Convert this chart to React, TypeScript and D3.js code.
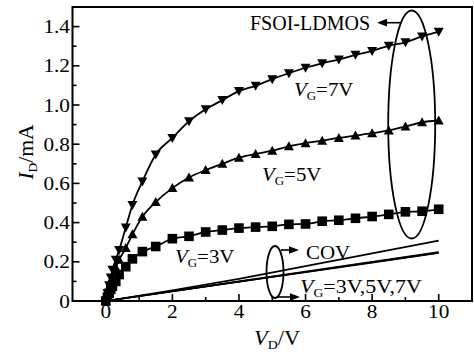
import React from 'react';
import * as d3 from 'd3';

const vd = [0, 0.05, 0.1, 0.15, 0.2, 0.3, 0.4, 0.6, 0.8, 1.1, 1.5, 2, 2.5, 3, 3.5, 4, 4.5, 5, 5.5, 6, 6.5, 7, 7.5, 8, 8.5, 9, 9.5, 10];
const id7 = [0, 0.04, 0.08, 0.12, 0.16, 0.21, 0.26, 0.375, 0.49, 0.61, 0.747, 0.832, 0.917, 0.978, 1.025, 1.071, 1.098, 1.132, 1.162, 1.19, 1.213, 1.232, 1.256, 1.276, 1.302, 1.32, 1.35, 1.374];
const id5 = [0, 0.03, 0.06, 0.09, 0.12, 0.17, 0.21, 0.27, 0.34, 0.43, 0.505, 0.576, 0.63, 0.668, 0.7, 0.731, 0.75, 0.767, 0.789, 0.805, 0.818, 0.832, 0.844, 0.856, 0.87, 0.89, 0.912, 0.921];
const id3 = [0, 0.02, 0.04, 0.06, 0.075, 0.1, 0.135, 0.175, 0.215, 0.252, 0.278, 0.318, 0.33, 0.352, 0.362, 0.372, 0.377, 0.381, 0.391, 0.393, 0.407, 0.412, 0.422, 0.431, 0.442, 0.455, 0.458, 0.468];

const covVd = [0, 2, 4, 6, 8, 10];
const covThin = [0, 0.055, 0.113, 0.178, 0.243, 0.308];
const covThick3 = [0, 0.049, 0.098, 0.147, 0.196, 0.245];
const covThick5 = [0, 0.0495, 0.099, 0.148, 0.198, 0.247];
const covThick7 = [0, 0.05, 0.1, 0.15, 0.2, 0.25];

const xTicks = [0, 2, 4, 6, 8, 10];
const xTickLabels = ['0', '2', '4', '6', '8', '10'];
const yTicks = [0, 0.2, 0.4, 0.6, 0.8, 1.0, 1.2, 1.4];
const yTickLabels = ['0', '0.2', '0.4', '0.6', '0.8', '1.0', '1.2', '1.4'];

const W = 474, H = 352;
const x = d3.scaleLinear().domain([-1, 11]).range([72.5, 472]);
const y = d3.scaleLinear().domain([0, 1.5]).range([301, 7]);

const FONT = '"Liberation Serif", "Times New Roman", serif';

function line(xs: number[], ys: number[], curve = d3.curveMonotoneX) {
  const pts = xs.map((v, i) => [v, ys[i]] as [number, number]);
  return d3.line<[number, number]>().x(d => x(d[0])).y(d => y(d[1])).curve(curve)(pts) || '';
}

function Marker({ kind, cx, cy }: { kind: string; cx: number; cy: number }) {
  if (kind === 'down') {
    return <path d={`M${cx - 5},${cy - 4} L${cx + 5},${cy - 4} L${cx},${cy + 5} Z`} fill="#000" />;
  }
  if (kind === 'up') {
    return <path d={`M${cx - 5},${cy + 4} L${cx + 5},${cy + 4} L${cx},${cy - 5} Z`} fill="#000" />;
  }
  return <rect x={cx - 4.8} y={cy - 4.8} width={9.6} height={9.6} fill="#000" />;
}

function Sub({ x: tx, y: ty, main, sub, rest, size, sx = 1.1, anchor = 'start' }: { x: number; y: number; main: string; sub: string; rest: string; size: number; sx?: number; anchor?: string }) {
  return (
    <text transform={`translate(${tx},${ty}) scale(${sx},1)`} textAnchor={anchor} fontFamily={FONT} fontSize={size} fill="#000">
      <tspan fontStyle="italic">{main}</tspan>
      <tspan fontSize={size * 0.62} dy={size * 0.22}>{sub}</tspan>
      <tspan dy={-size * 0.22}>{rest}</tspan>
    </text>
  );
}

export default function App() {
  const minorX = d3.range(-1, 11.01, 1).filter(v => !xTicks.includes(v) && v > -1 && v < 11);
  const minorY = d3.range(0.1, 1.5, 0.2);
  const series = [
    { ys: id7, kind: 'down' },
    { ys: id5, kind: 'up' },
    { ys: id3, kind: 'square' },
  ];
  const x0 = x(-1), x1 = x(11), y0 = y(0), y1 = y(1.5);
  return (
    <svg width={W} height={H} style={{ position: 'absolute', left: 0, top: 0, background: '#fff' }}>
      <rect x={0} y={0} width={W} height={H} fill="#fff" />
      {/* COV lines */}
      <path d={line(covVd, covThin, d3.curveLinear)} fill="none" stroke="#000" strokeWidth={1.6} />
      {[covThick3, covThick5, covThick7].map((c, i) => (
        <path key={i} d={line(covVd, c, d3.curveLinear)} fill="none" stroke="#000" strokeWidth={1.6} />
      ))}
      {/* series */}
      {series.map((s, i) => (
        <g key={i}>
          <path d={line(vd, s.ys)} fill="none" stroke="#000" strokeWidth={1.8} />
          {vd.map((v, j) => (
            <Marker key={j} kind={s.kind} cx={x(v)} cy={y(s.ys[j])} />
          ))}
        </g>
      ))}
      {/* frame */}
      <rect x={x0} y={y1} width={x1 - x0} height={y0 - y1} fill="none" stroke="#000" strokeWidth={2} />
      {/* ticks */}
      {xTicks.map((t, i) => (
        <g key={'xt' + i}>
          <line x1={x(t)} x2={x(t)} y1={y0} y2={y0 - 7} stroke="#000" strokeWidth={1.6} />
          <text transform={`translate(${x(t)},318) scale(1.12,1)`} textAnchor="middle" fontFamily={FONT} fontSize={19}>{xTickLabels[i]}</text>
        </g>
      ))}
      {minorX.map((t, i) => (
        <line key={'xm' + i} x1={x(t)} x2={x(t)} y1={y0} y2={y0 - 4} stroke="#000" strokeWidth={1.6} />
      ))}
      {yTicks.map((t, i) => (
        <g key={'yt' + i}>
          <line x1={x0} x2={x0 + 7} y1={y(t)} y2={y(t)} stroke="#000" strokeWidth={1.6} />
          <text transform={`translate(70,${y(t) + 6.5}) scale(1.12,1)`} textAnchor="end" fontFamily={FONT} fontSize={19}>{yTickLabels[i]}</text>
        </g>
      ))}
      {minorY.map((t, i) => (
        <line key={'ym' + i} x1={x0} x2={x0 + 4} y1={y(t)} y2={y(t)} stroke="#000" strokeWidth={1.6} />
      ))}
      {/* axis labels */}
      <g transform="translate(33,152) rotate(-90)">
        <Sub x={0} y={0} main="I" sub="D" rest="/mA" size={20} sx={1.08} anchor="middle" />
      </g>
      <Sub x={277} y={345} main="V" sub="D" rest="/V" size={20} sx={1.12} anchor="middle" />
      {/* annotations */}
      <text x={250} y={30} fontFamily={FONT} fontSize={20}>FSOI-LDMOS</text>
      <ellipse cx={411.7} cy={124.5} rx={23.5} ry={114} fill="none" stroke="#000" strokeWidth={1.8} />
      <line x1={401} y1={22.7} x2={384} y2={22.7} stroke="#000" strokeWidth={1.6} />
      <path d="M377,22.7 L387,18.8 L387,26.6 Z" fill="#000" />
      <Sub x={294} y={96} main="V" sub="G" rest="=7V" size={19} />
      <Sub x={262} y={181} main="V" sub="G" rest="=5V" size={19} />
      <Sub x={175} y={263} main="V" sub="G" rest="=3V" size={19} />
      <text transform="translate(306,259) scale(1.1,1)" fontFamily={FONT} fontSize={19}>COV</text>
      <ellipse cx={275} cy={272} rx={8.5} ry={26} fill="none" stroke="#000" strokeWidth={1.8} />
      <line x1={281} y1={250} x2={292} y2={250} stroke="#000" strokeWidth={1.6} />
      <path d="M299,250 L289,246.2 L289,253.8 Z" fill="#000" />
      <line x1={277} y1={297} x2={293} y2={297} stroke="#000" strokeWidth={1.6} />
      <path d="M300,297 L290,293.2 L290,300.8 Z" fill="#000" />
      <Sub x={300} y={293} main="V" sub="G" rest="=3V,5V,7V" size={19} sx={1.16} />
    </svg>
  );
}
